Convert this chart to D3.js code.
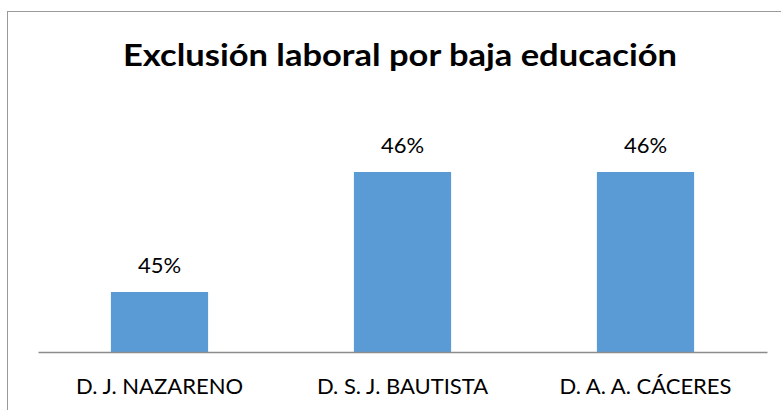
<!DOCTYPE html>
<html>
<head>
<meta charset="utf-8">
<script src="https://cdn.jsdelivr.net/npm/d3@7"></script>
<style>
  html, body { margin: 0; padding: 0; background: #fff; }
  svg text { font-family: Lato, "Open Sans", sans-serif; fill: #000; }
</style>
</head>
<body>
<div id="chart"></div>
<script>

var chartTitle = "Exclusión laboral por baja educación";
var categories = ["D. J. NAZARENO", "D. S. J. BAUTISTA", "D. A. A. CÁCERES"];
var values     = [0.45, 0.46, 0.46];
var valueLabels = ["45%", "46%", "46%"];
var yDomain    = [0.445, 0.465];

var width  = 781;
var height = 410;

var margin = {top: 112, right: 14, bottom: 58, left: 38};

var svg = d3.select("#chart")
  .append("svg")
    .attr("width", width)
    .attr("height", height);

// outer chart border (runs past the right and bottom edges)
svg.append("rect")
  .attr("x", 7.5)
  .attr("y", 11.5)
  .attr("width", width)
  .attr("height", height)
  .attr("fill", "none")
  .attr("stroke", "#9a9a9a")
  .attr("stroke-width", 1);

svg.append("text")
  .attr("x", 400)
  .attr("y", 66)
  .attr("text-anchor", "middle")
  .attr("textLength", 554)
  .attr("lengthAdjust", "spacingAndGlyphs")
  .style("font-size", "31px")
  .style("font-weight", "bold")
  .text(chartTitle);

var x = d3.scaleBand()
  .domain(categories)
  .range([margin.left, width - margin.right])
  .paddingInner(0.6)
  .paddingOuter(0.3);

var y = d3.scaleLinear()
  .domain(yDomain)
  .range([height - margin.bottom, margin.top]);

var data = d3.zip(categories, values, valueLabels);

svg.append("g")
  .attr("class", "bars")
  .selectAll("rect")
  .data(data)
  .enter()
  .append("rect")
  .attr("x", function(d){ return x(d[0]); })
  .attr("y", function(d){ return y(d[1]); })
  .attr("width", x.bandwidth())
  .attr("height", function(d){ return y(yDomain[0]) - y(d[1]); })
  .attr("fill", "#5b9bd5");

svg.append("g")
  .attr("class", "labels")
  .selectAll("text")
  .data(data)
  .enter()
  .append("text")
  .attr("x", function(d){ return x(d[0]) + x.bandwidth()/2; })
  .attr("y", function(d){ return y(d[1]) - 19; })
  .attr("text-anchor", "middle")
  .style("font-size", "22px")
  .text(function(d){ return d[2]; });

// category axis
var xAxis = svg.append("g")
  .attr("transform", "translate(0," + (height - margin.bottom) + ")")
  .call(d3.axisBottom(x).tickSize(0).tickPadding(26));

xAxis.select(".domain")
  .attr("stroke", "#8c8c8c")
  .attr("stroke-width", 1.3);

xAxis.selectAll("text")
  .style("font-family", "Lato, 'Open Sans', sans-serif")
  .style("font-size", "22px")
  .attr("fill", "#000");

</script>
</body>
</html>
